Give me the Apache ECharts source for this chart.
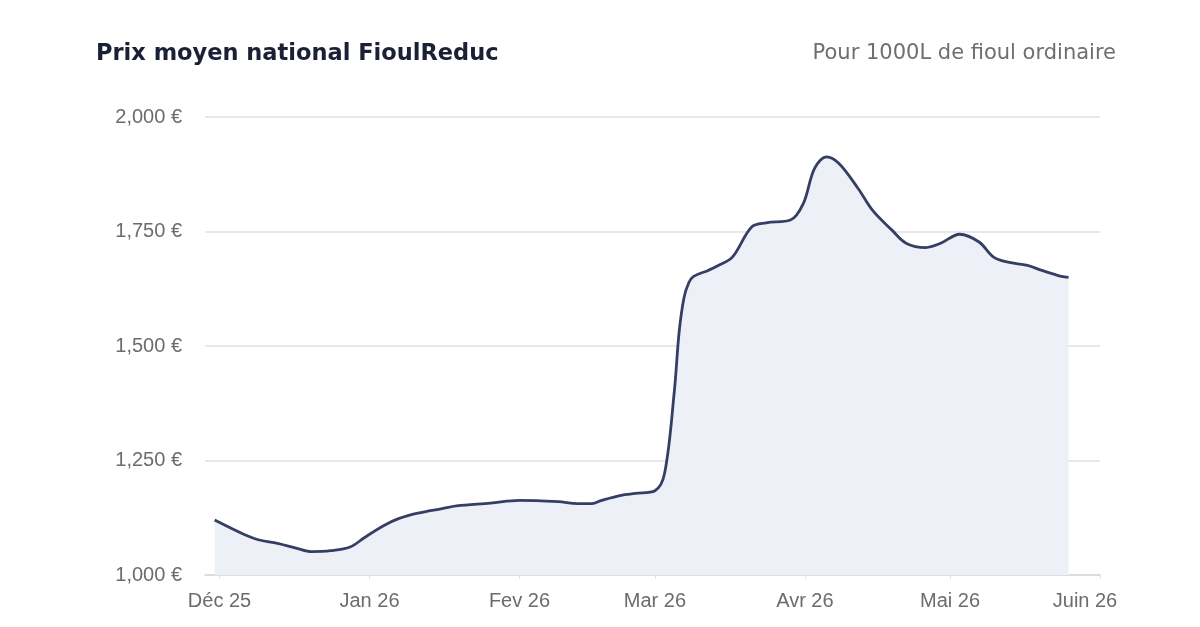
<!DOCTYPE html>
<html>
<head>
<meta charset="utf-8">
<script src="https://cdn.jsdelivr.net/npm/echarts@6/dist/echarts.min.js"></script>
<style>html,body{margin:0;padding:0;background:#fff;}#c{width:1200px;height:627px;}</style>
</head>
<body>
<div id="c"></div>
<script>
var titleText = 'Prix moyen national FioulReduc';
var subtitleText = 'Pour 1000L de fioul ordinaire';

var dates = [
  '2025-11-30','2025-12-06','2025-12-09','2025-12-13','2025-12-17','2025-12-20','2025-12-24','2025-12-28','2025-12-31',
  '2026-01-04','2026-01-07','2026-01-11','2026-01-16','2026-01-19','2026-01-26',
  '2026-02-01','2026-02-09','2026-02-13','2026-02-16','2026-02-18','2026-02-22','2026-02-25',
  '2026-03-01','2026-03-03','2026-03-05','2026-03-06','2026-03-07','2026-03-08','2026-03-09','2026-03-12','2026-03-14','2026-03-17','2026-03-21','2026-03-24','2026-03-29',
  '2026-03-31 16:00','2026-04-03','2026-04-05 12:00','2026-04-08','2026-04-12','2026-04-15','2026-04-19','2026-04-22','2026-04-26','2026-04-29',
  '2026-05-03','2026-05-07','2026-05-10','2026-05-13','2026-05-17','2026-05-20','2026-05-24','2026-05-25 12:00'
];
var prices = [
  1120,1089,1077,1069,1058,1051,1053,1061,1082,
  1108,1123,1135,1145,1151,1157,
  1163,1160,1156,1156,1163,1174,1178,
  1184,1222,1400,1530,1605,1638,1652,1665,1675,1694,1760,1769,1775,
  1811,1888,1913,1899,1844,1796,1753,1724,1715,1724,
  1744,1727,1694,1683,1676,1665,1652,1650
];

var tickDates = ['2025-12-01','2026-01-01','2026-02-01','2026-03-01','2026-04-01','2026-05-01','2026-06-01'];
var tickLabels = ['Déc 25','Jan 26','Fev 26','Mar 26','Avr 26','Mai 26','Juin 26'];
var xStart = '2025-11-28', xEnd = '2026-06-01';

var yMin = 1000, yMax = 2000, yStep = 250;

var parse = function (s) { return +echarts.number.parseDate(s); };
var tickTimes = tickDates.map(parse);
var seriesData = dates.map(function (d, i) { return [parse(d), prices[i]]; });

var chart = echarts.init(document.getElementById('c'), null, {renderer: 'canvas'});
chart.setOption({
  animation: false,
  backgroundColor: '#ffffff',
  title: [
    {text: titleText, left: 91, top: 38,
     textStyle: {fontFamily: 'DejaVu Sans', fontSize: 22.5, fontWeight: 700, color: '#1b2034'}},
    {text: subtitleText, right: 79, top: 38,
     textStyle: {fontFamily: 'DejaVu Sans', fontSize: 21, fontWeight: 400, color: '#6e6e73'}}
  ],
  grid: {left: 205, right: 100, top: 117, bottom: 52, containLabel: false},
  xAxis: {
    type: 'value',
    min: parse(xStart),
    max: parse(xEnd),
    axisLine: {show: true, lineStyle: {color: '#d9d9dd', width: 1.5}},
    axisTick: {show: true, customValues: tickTimes, length: 4, lineStyle: {color: '#e2e2e6'}},
    splitLine: {show: false},
    axisLabel: {
      customValues: tickTimes,
      margin: 16,
      fontFamily: 'Liberation Sans',
      fontSize: 20,
      color: '#6b6b70',
      formatter: function (v) {
        var i = tickTimes.indexOf(+v);
        if (i < 0) return '';
        if (i === tickLabels.length - 1) return '{j|' + tickLabels[i] + '}';
        return tickLabels[i];
      },
      rich: {j: {fontFamily: 'Liberation Sans', fontSize: 20, color: '#6b6b70', padding: [0, 30, 0, 0]}}
    }
  },
  yAxis: {
    type: 'value',
    min: yMin, max: yMax, interval: yStep,
    axisLine: {show: false},
    axisTick: {show: false},
    splitLine: {show: true, lineStyle: {color: '#e1e1e4', width: 1.5}},
    axisLabel: {
      margin: 23,
      fontFamily: 'Liberation Sans',
      fontSize: 20,
      color: '#6b6b70',
      formatter: function (v) { return v.toLocaleString('en-US') + ' €'; }
    }
  },
  series: [{
    type: 'line',
    data: seriesData,
    smooth: 0.35,
    showSymbol: false,
    lineStyle: {color: '#353f64', width: 2.8},
    areaStyle: {color: '#eef0f8', opacity: 1},
    z: 3
  }]
});
</script>
</body>
</html>
